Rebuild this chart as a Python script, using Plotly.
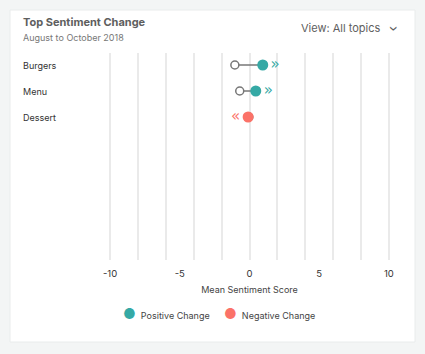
import plotly.graph_objects as go

topics = ["Burgers", "Menu", "Dessert"]
old_scores = [-1.05, -0.7, -0.05]
new_scores = [0.95, 0.45, -0.1]
x_ticks = [-10, -5, 0, 5, 10]
grid_ticks = list(range(-10, 11, 2))
legend_names = ["Positive Change", "Negative Change"]

TEAL = "#35a9a5"
RED = "#fb7268"
GREY = "#777777"
FONT = "Inter"

W, H = 425, 354
L, R, T, B = 108, 34, 53, 94
PW, PH = W - L - R, H - T - B


def px(x):
    return (x - L) / PW


def py(y):
    return (H - B - y) / PH


fig = go.Figure()

# connector lines
lx, ly = [], []
for t, o, n in zip(topics, old_scores, new_scores):
    lx += [o, n, None]
    ly += [t, t, None]
fig.add_trace(go.Scatter(x=lx, y=ly, mode="lines", line=dict(color=GREY, width=1.5),
                         showlegend=False, hoverinfo="skip"))
# old (open) markers
fig.add_trace(go.Scatter(x=old_scores, y=topics, mode="markers",
                         marker=dict(size=8, color="white", line=dict(color=GREY, width=1.5)),
                         showlegend=False))

pos = [(t, n) for t, o, n in zip(topics, old_scores, new_scores) if n >= o]
neg = [(t, n) for t, o, n in zip(topics, old_scores, new_scores) if n < o]

fig.add_trace(go.Scatter(x=[p[1] for p in pos], y=[p[0] for p in pos], mode="markers+text",
                         name=legend_names[0], text=["»"] * len(pos), textposition="middle right",
                         textfont=dict(color=TEAL, size=15, family="DejaVu Sans"),
                         marker=dict(size=11, color=TEAL), showlegend=False))
fig.add_trace(go.Scatter(x=[p[1] for p in neg], y=[p[0] for p in neg], mode="markers+text",
                         name=legend_names[1], text=["«"] * len(neg), textposition="middle left",
                         textfont=dict(color=RED, size=15, family="DejaVu Sans"),
                         marker=dict(size=11, color=RED), showlegend=False))

# invisible trace for labelled x axis
fig.add_trace(go.Scatter(x=[None], y=[None], xaxis="x2", showlegend=False))

annotations = []
for t in topics:
    annotations.append(dict(x=px(23), xref="paper", y=t, yref="y", text=t, showarrow=False,
                            xanchor="left", yanchor="middle", xshift=-2,
                            font=dict(family=FONT, size=9, color="#333333")))
annotations += [
    dict(x=px(23), y=py(22), xref="paper", yref="paper", text="<b>Top Sentiment Change</b>",
         showarrow=False, xanchor="left", yanchor="middle", xshift=-2,
         font=dict(family=FONT, size=11, color="#5e5e5e")),
    dict(x=px(23), y=py(37), xref="paper", yref="paper", text="August to October 2018",
         showarrow=False, xanchor="left", yanchor="middle", xshift=-2,
         font=dict(family=FONT, size=9, color="#777777")),
    dict(x=px(381), y=py(28), xref="paper", yref="paper", text="View: All topics",
         showarrow=False, xanchor="right", yanchor="middle", xshift=2,
         font=dict(family=FONT, size=11, color="#5e5e5e")),
    dict(x=px(394), y=py(28), xref="paper", yref="paper", text="›", textangle=90,
         showarrow=False, xanchor="center", yanchor="middle",
         font=dict(family=FONT, size=14, color="#5e5e5e")),
]
# legend
for name, color, xpos in zip(legend_names, [TEAL, RED], [121, 222]):
    annotations.append(dict(
        x=px(xpos), y=py(313), xref="paper", yref="paper", showarrow=False,
        xanchor="left", yanchor="middle",
        text=f'<span style="color:{color};font-size:14px">●</span>  {name}',
        font=dict(family=FONT, size=9, color="#444444")))

fig.update_layout(
    width=W, height=H,
    margin=dict(l=L, r=R, t=T, b=B),
    paper_bgcolor="#f3f5f5",
    plot_bgcolor="rgba(0,0,0,0)",
    font=dict(family=FONT, size=9.5, color="#444444"),
    showlegend=False,
    shapes=[dict(type="rect", xref="paper", yref="paper", layer="below",
                 x0=px(10), x1=px(415), y0=py(342), y1=py(10),
                 fillcolor="white", line=dict(color="#e9ecec", width=1))],
    annotations=annotations,
    xaxis=dict(range=[-10.15, 10.15], tickvals=grid_ticks, showticklabels=False, showgrid=True,
               gridcolor="#eaeaea", gridwidth=1.5, zeroline=False, showline=False, fixedrange=True),
    xaxis2=dict(range=[-10.15, 10.15], overlaying="x", side="bottom", tickvals=x_ticks,
                ticktext=[str(v) for v in x_ticks], showgrid=False, zeroline=False,
                showline=False, ticks="outside", ticklen=5, tickcolor="rgba(0,0,0,0)",
                tickfont=dict(size=9.5, color="#333333"),
                title=dict(text="Mean Sentiment Score", font=dict(size=9, color="#444444"),
                           standoff=8)),
    yaxis=dict(type="category", categoryorder="array", categoryarray=topics,
               range=[7.5, -0.4615], showticklabels=False, showgrid=False,
               zeroline=False, showline=False),
)

fig.write_html("out.html")
